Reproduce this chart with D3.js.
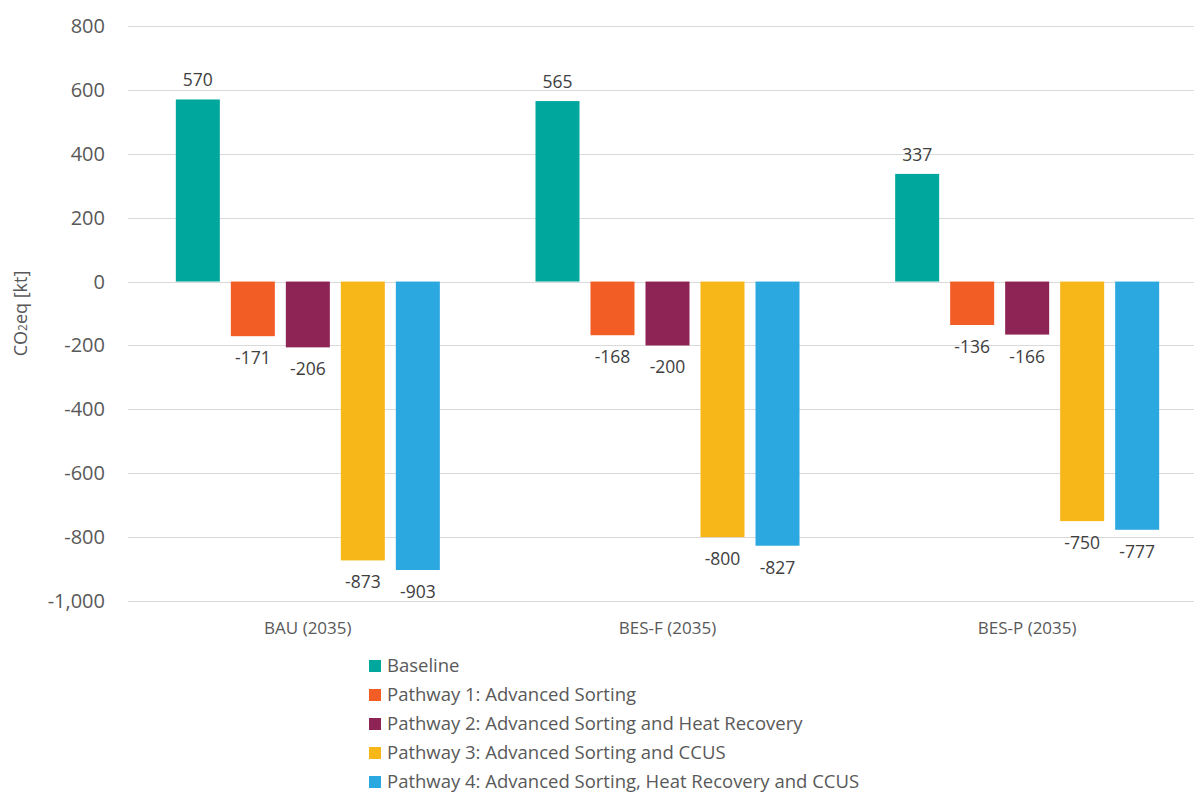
<!DOCTYPE html>
<html>
<head>
<meta charset="utf-8">
<script src="https://cdn.jsdelivr.net/npm/d3@7"></script>
<style>
  body { margin: 0; background: #fff; }
  text { font-family: "Open Sans", "Noto Sans", sans-serif; }
</style>
</head>
<body>
<div id="chart"></div>
<script>
var categories = ["BAU (2035)", "BES-F (2035)", "BES-P (2035)"];
var seriesNames = [
  "Baseline",
  "Pathway 1: Advanced Sorting",
  "Pathway 2: Advanced Sorting and Heat Recovery",
  "Pathway 3: Advanced Sorting and CCUS",
  "Pathway 4: Advanced Sorting, Heat Recovery and CCUS"
];
var baseline = [570, 565, 337];
var pathway1 = [-171, -168, -136];
var pathway2 = [-206, -200, -166];
var pathway3 = [-873, -800, -750];
var pathway4 = [-903, -827, -777];
var yTicks = [800, 600, 400, 200, 0, -200, -400, -600, -800, -1000];
var colors = ["#00A79D", "#F15D24", "#8E2356", "#F8B719", "#2BA8E0"];

var allSeries = [baseline, pathway1, pathway2, pathway3, pathway4];

var w = 1194, h = 795;
var plotLeft = 128, plotRight = 1207, plotTop = 26, plotBottom = 601;

var svg = d3.select("#chart").append("svg")
  .attr("width", w)
  .attr("height", h);

var y = d3.scaleLinear().domain([-1000, 800]).range([plotBottom, plotTop]);

var x0 = d3.scaleBand().domain(categories).range([plotLeft, plotRight]);
var bw = x0.bandwidth();
var x1 = d3.scaleBand().domain(seriesNames)
  .range([bw / 2 - 132, bw / 2 + 132])
  .paddingInner(0.2);

// gridlines
svg.append("g")
  .selectAll("line")
  .data(yTicks)
  .enter().append("line")
  .attr("x1", plotLeft)
  .attr("x2", w)
  .attr("y1", d => Math.round(y(d)) + 0.5)
  .attr("y2", d => Math.round(y(d)) + 0.5)
  .style("stroke", "#d9d9d9")
  .style("stroke-width", 1);

// plain hyphen for negatives, like the original
var fmt = function(d) { return d3.format(",")(d).replace("\u2212", "-"); };

// y tick labels
svg.append("g")
  .selectAll("text")
  .data(yTicks)
  .enter().append("text")
  .attr("x", 105)
  .attr("y", d => y(d))
  .attr("dy", "0.35em")
  .attr("text-anchor", "end")
  .style("font-size", "20px")
  .style("fill", "#595959")
  .text(d => fmt(d));

// y axis title
var title = svg.append("text")
  .attr("transform", "translate(27," + ((plotTop + plotBottom) / 2) + ") rotate(-90)")
  .attr("text-anchor", "middle")
  .style("font-size", "18px")
  .style("fill", "#595959");
title.append("tspan").text("CO");
title.append("tspan").style("font-size", "12px").text("2");
title.append("tspan").text("eq [kt]");

// bars
var rows = categories.map(function(c, i) {
  return seriesNames.map(function(s, j) {
    return { cat: c, series: s, value: allSeries[j][i], color: colors[j] };
  });
});

var groups = svg.append("g")
  .selectAll("g")
  .data(rows)
  .enter().append("g")
  .attr("transform", d => "translate(" + x0(d[0].cat) + ",0)");

groups.selectAll("rect")
  .data(d => d)
  .enter().append("rect")
  .attr("x", d => x1(d.series))
  .attr("width", x1.bandwidth())
  .attr("y", d => y(Math.max(0, d.value)))
  .attr("height", d => Math.abs(y(d.value) - y(0)))
  .style("fill", d => d.color);

groups.selectAll("text")
  .data(d => d)
  .enter().append("text")
  .attr("x", d => x1(d.series) + x1.bandwidth() / 2)
  .attr("y", d => d.value >= 0 ? y(d.value) - 13 : y(d.value) + 28)
  .attr("text-anchor", "middle")
  .style("font-size", "17.5px")
  .style("fill", "#404040")
  .text(d => fmt(d.value));

// category labels
svg.append("g")
  .selectAll("text")
  .data(categories)
  .enter().append("text")
  .attr("x", d => x0(d) + bw / 2)
  .attr("y", 634)
  .attr("text-anchor", "middle")
  .style("font-size", "17px")
  .style("fill", "#595959")
  .text(d => d);

// legend
var legend = svg.append("g")
  .selectAll("g")
  .data(seriesNames)
  .enter().append("g")
  .attr("transform", (d, i) => "translate(369," + (666 + i * 29) + ")");

legend.append("rect")
  .attr("x", 0)
  .attr("y", -6)
  .attr("width", 12)
  .attr("height", 12)
  .style("fill", (d, i) => colors[i]);

legend.append("text")
  .attr("x", 18)
  .attr("dy", "0.35em")
  .style("font-size", "18.5px")
  .style("fill", "#595959")
  .text(d => d);
</script>
</body>
</html>
